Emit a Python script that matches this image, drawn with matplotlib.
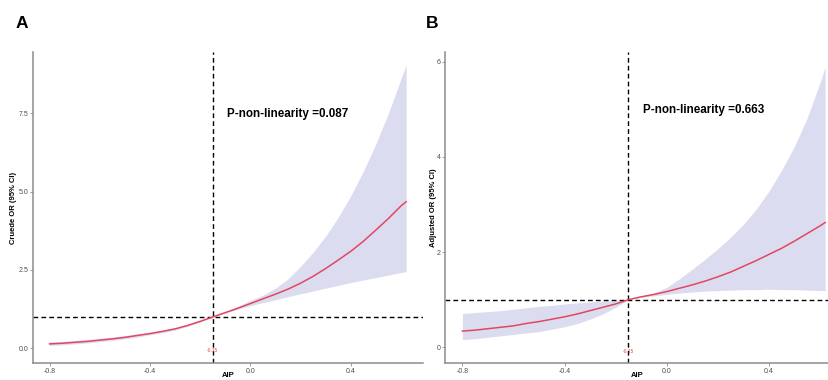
import matplotlib
matplotlib.use("Agg")
import matplotlib.pyplot as plt

plt.rcParams['font.family'] = ['Liberation Sans', 'DejaVu Sans']

# ---- data ----
aip = [-0.8, -0.75, -0.7, -0.65, -0.6, -0.55, -0.5, -0.45, -0.4, -0.35, -0.3, -0.25, -0.2, -0.15,
       -0.1, -0.05, 0.0, 0.05, 0.1, 0.15, 0.2, 0.25, 0.3, 0.35, 0.4, 0.45, 0.5, 0.55, 0.6, 0.62]

crude_or    = [0.14, 0.16, 0.19, 0.22, 0.26, 0.30, 0.35, 0.41, 0.47, 0.54, 0.62, 0.73, 0.86, 1.00,
               1.14, 1.28, 1.43, 1.58, 1.73, 1.89, 2.08, 2.30, 2.55, 2.82, 3.10, 3.42, 3.78, 4.15, 4.55, 4.68]
crude_upper = [0.20, 0.22, 0.25, 0.28, 0.32, 0.36, 0.40, 0.46, 0.51, 0.58, 0.66, 0.76, 0.88, 1.00,
               1.16, 1.34, 1.53, 1.70, 1.92, 2.22, 2.62, 3.07, 3.59, 4.19, 4.88, 5.66, 6.54, 7.52, 8.62, 9.05]
crude_lower = [0.09, 0.11, 0.14, 0.17, 0.21, 0.25, 0.30, 0.36, 0.43, 0.50, 0.58, 0.70, 0.84, 1.00,
               1.12, 1.25, 1.36, 1.46, 1.55, 1.65, 1.74, 1.83, 1.92, 2.01, 2.10, 2.18, 2.26, 2.34, 2.42, 2.45]

adj_or    = [0.34, 0.36, 0.39, 0.42, 0.45, 0.50, 0.54, 0.59, 0.64, 0.70, 0.77, 0.84, 0.91, 1.00,
             1.06, 1.11, 1.17, 1.24, 1.31, 1.39, 1.48, 1.58, 1.70, 1.82, 1.95, 2.08, 2.23, 2.39, 2.55, 2.62]
adj_upper = [0.71, 0.73, 0.75, 0.77, 0.80, 0.83, 0.86, 0.88, 0.91, 0.93, 0.95, 0.97, 0.98, 1.00,
             1.06, 1.14, 1.26, 1.44, 1.64, 1.85, 2.07, 2.31, 2.58, 2.90, 3.28, 3.72, 4.22, 4.82, 5.56, 5.89]
adj_lower = [0.16, 0.18, 0.21, 0.24, 0.27, 0.30, 0.33, 0.38, 0.43, 0.50, 0.59, 0.70, 0.84, 1.00,
             1.05, 1.08, 1.11, 1.14, 1.16, 1.18, 1.19, 1.20, 1.21, 1.21, 1.22, 1.21, 1.21, 1.20, 1.19, 1.19]

ref_x = -0.15
ref_y = 1.0
ref_label = "-0.15"
x_ticks = [-0.8, -0.4, 0.0, 0.4]
x_tick_labels = ["-0.8", "-0.4", "0.0", "0.4"]
yticks_a = [0.0, 2.5, 5.0, 7.5]
ytick_labels_a = ["0.0", "2.5", "5.0", "7.5"]
yticks_b = [0, 2, 4, 6]
ytick_labels_b = ["0", "2", "4", "6"]
p_text_a = "P-non-linearity =0.087"
p_text_b = "P-non-linearity =0.663"

W, H = 829, 380
fig = plt.figure(figsize=(W / 100, H / 100), dpi=100)

def px_axes(l, r, t, b):
    return fig.add_axes([l / W, 1 - b / H, (r - l) / W, (b - t) / H])

axA = px_axes(33, 423, 52, 363)
axB = px_axes(445.3, 829, 52, 363)

band_col = '#dcdcf1'
line_col = '#e2475f'
spine_col = '#8c8c8c'

def draw(ax, orv, up, lo, ylab, ylab_x, yt, ytl, xlim, ylim, ptext, ptext_y):
    ax.fill_between(aip, lo, up, color=band_col, lw=0, zorder=1)
    ax.plot(aip, orv, color=line_col, lw=1.1, zorder=3)
    ax.axvline(ref_x, color='black', lw=1.0, ls=(0, (3.4, 2.3)), zorder=2)
    ax.axhline(ref_y, color='black', lw=1.0, ls=(0, (3.4, 2.3)), zorder=2)
    ax.set_xlim(*xlim)
    ax.set_ylim(*ylim)
    ax.set_xticks(x_ticks)
    ax.set_xticklabels(x_tick_labels)
    ax.set_yticks(yt)
    ax.set_yticklabels(ytl)
    for s in ['top', 'right']:
        ax.spines[s].set_visible(False)
    for s in ['left', 'bottom']:
        ax.spines[s].set_color(spine_col)
        ax.spines[s].set_linewidth(1.1)
    ax.tick_params(axis='both', length=2, width=0.6, color=spine_col,
                   labelcolor='#4d4d4d', labelsize=5.0, pad=1.5)
    ax.set_ylabel(ylab, fontsize=5.5, fontweight='bold')
    ax.yaxis.set_label_coords(ylab_x, 0.5)
    ax.text(0.5, -0.039, "AIP", transform=ax.transAxes, ha='center', va='center',
            fontsize=5.5, fontweight='bold', clip_on=False)
    ax.text(ref_x, -0.08, ref_label, color='#e8404a', fontsize=3.5, ha='center', va='center')
    ax.text(-0.092, ptext_y, ptext, fontsize=8.4, fontweight='bold', ha='left', va='center')
    ax.set_facecolor('white')

draw(axA, crude_or, crude_upper, crude_lower, "Cruede OR (95% CI)", -0.040,
     yticks_a, ytick_labels_a, (-0.866, 0.687), (-0.47, 9.46), p_text_a, 7.48)
draw(axB, adj_or, adj_upper, adj_lower, "Adjusted OR (95% CI)", -0.022,
     yticks_b, ytick_labels_b, (-0.867, 0.635), (-0.33, 6.2), p_text_b, 4.99)

fig.text(16 / W, 1 - 23 / H, "A", fontsize=12.5, fontweight='bold', ha='left', va='center')
fig.text(426 / W, 1 - 23 / H, "B", fontsize=12.5, fontweight='bold', ha='left', va='center')

fig.savefig("out.png", dpi=100, facecolor='white')
